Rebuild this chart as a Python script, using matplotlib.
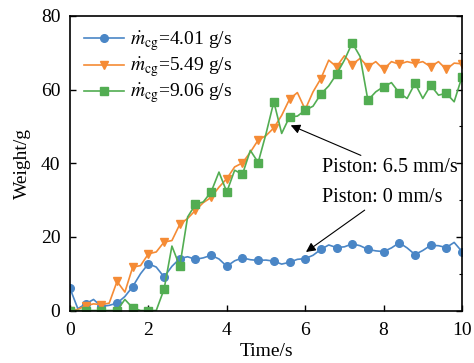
import numpy as np
import matplotlib
matplotlib.use("Agg")
import matplotlib.pyplot as plt
from matplotlib.ticker import MultipleLocator

plt.rcParams['font.family'] = ['Liberation Serif', 'DejaVu Serif']
plt.rcParams['mathtext.fontset'] = 'stix'

time_s = np.round(np.arange(0, 10.01, 0.2), 1)

w_401 = [6.0, 0.5, 1.8, 3.0, 1.1, 1.4, 2.0, 3.8, 6.5, 10.0,
         12.7, 11.8, 9.1, 12.0, 14.1, 14.6, 13.9, 14.3, 15.0, 14.0,
         12.0, 13.5, 14.3, 13.8, 13.6, 13.7, 13.4, 12.6, 13.1, 13.9,
         14.1, 15.0, 16.6, 17.8, 17.1, 17.3, 18.1, 17.6, 16.6, 16.2,
         16.0, 17.0, 18.4, 17.0, 15.2, 16.3, 17.7, 17.6, 17.1, 18.5,
         16.0]

w_549 = [0.0, 0.3, 1.3, 1.8, 1.6, 2.0, 7.9, 5.0, 11.8, 12.2,
         15.4, 15.9, 18.6, 19.0, 23.4, 25.0, 27.2, 29.3, 30.7, 33.5,
         35.8, 39.0, 40.1, 43.0, 46.3, 47.5, 49.6, 53.0, 57.4, 59.2,
         54.6, 59.4, 63.0, 68.0, 66.2, 69.2, 66.8, 68.5, 66.2, 67.6,
         65.5, 67.6, 66.9, 67.6, 67.1, 67.6, 66.2, 67.6, 65.5, 67.2,
         67.0]

w_906 = [0.0, 0.0, 0.0, 0.0, 0.0, 0.0, 0.0, 3.0, 0.7, 0.0,
         0.0, 0.0, 5.8, 17.5, 12.0, 25.4, 28.8, 29.5, 32.2, 37.6,
         32.2, 38.1, 37.0, 43.5, 40.2, 48.0, 56.7, 48.1, 52.6, 52.8,
         54.4, 55.5, 58.8, 61.0, 64.2, 68.0, 72.7, 69.0, 57.1, 59.4,
         60.8, 61.9, 59.1, 57.6, 61.7, 57.6, 61.2, 58.5, 59.0, 56.7,
         63.5]

labels = [r'$\dot{m}_{\rm cg}$=4.01 g/s',
          r'$\dot{m}_{\rm cg}$=5.49 g/s',
          r'$\dot{m}_{\rm cg}$=9.06 g/s']
colors = ['#4a86c6', '#f58b35', '#52ad52']
markers = ['o', 'v', 's']

fig = plt.figure(figsize=(4.74, 3.63), dpi=100)
ax = fig.add_axes([70 / 474, 1 - 310.5 / 363, 392 / 474, 294.5 / 363])

for y, lab, c, m in zip([w_401, w_549, w_906], labels, colors, markers):
    ax.plot(time_s, y, color=c, marker=m, markevery=2, markersize=5.5,
            linewidth=1.2, label=lab)

ax.set_xlim(0, 10)
ax.set_ylim(0, 80)
ax.xaxis.set_major_locator(MultipleLocator(2))
ax.yaxis.set_major_locator(MultipleLocator(20))
ax.yaxis.set_minor_locator(MultipleLocator(10))
ax.tick_params(which='major', direction='in', length=4, width=1,
               labelsize=14, right=True)
ax.tick_params(axis='x', which='major', pad=8)
ax.tick_params(axis='y', which='major', pad=7)
ax.tick_params(which='minor', direction='in', length=2.5, width=0.8,
               left=False, right=True)
for s in ax.spines.values():
    s.set_linewidth(1.2)

ax.set_xlabel('Time/s', fontsize=14, labelpad=3)
ax.set_ylabel('Weight/g', fontsize=14, labelpad=7)

ax.legend(loc='upper left', frameon=False, fontsize=14,
          handlelength=2.1, handletextpad=0.3, labelspacing=0.15,
          borderaxespad=0.3)

ax.annotate('Piston: 6.5 mm/s', xy=(5.63, 50.3), xytext=(6.42, 38.8),
            fontsize=14.5, va='center', ha='left',
            arrowprops=dict(arrowstyle='-|>', color='black', lw=0.8,
                            shrinkA=0, shrinkB=0, mutation_scale=14))
ax.annotate('Piston: 0 mm/s', xy=(6.02, 15.9), xytext=(6.42, 30.6),
            fontsize=14.5, va='center', ha='left',
            arrowprops=dict(arrowstyle='-|>', color='black', lw=0.8,
                            shrinkA=0, shrinkB=0, mutation_scale=14))

fig.savefig('out.png', dpi=100)
